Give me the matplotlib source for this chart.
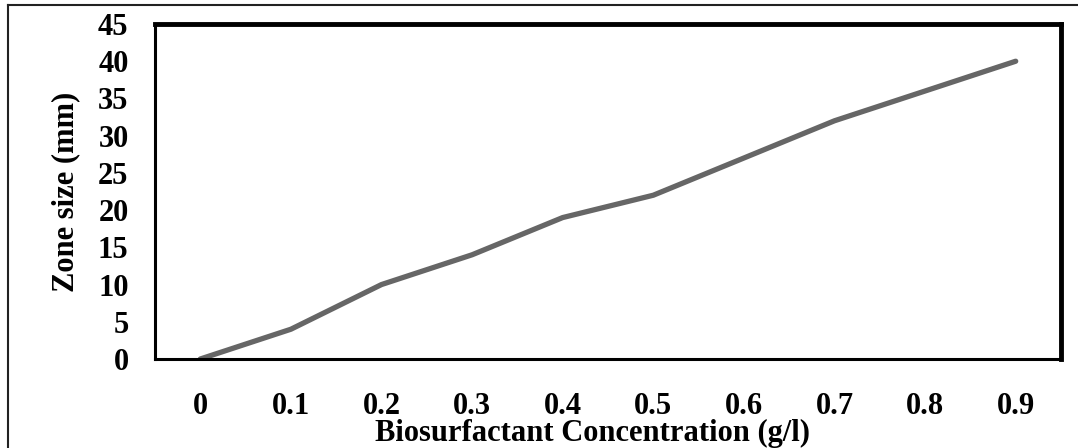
import matplotlib.pyplot as plt
from matplotlib.lines import Line2D

concentration = ['0', '0.1', '0.2', '0.3', '0.4', '0.5', '0.6', '0.7', '0.8', '0.9']
zone_size = [0, 4, 10, 14, 19, 22, 27, 32, 36, 40]

plt.rcParams['font.family'] = ['Liberation Serif', 'DejaVu Serif']
plt.rcParams['font.weight'] = 'bold'

W, H = 1078, 448
fig = plt.figure(figsize=(W / 100, H / 100), dpi=100)
ax = fig.add_axes([155 / W, 1 - 359 / H, (1061 - 155) / W, (359 - 24) / H])

x = list(range(len(concentration)))
ax.plot(x, zone_size, color='#666666', lw=3.8, solid_capstyle='round', solid_joinstyle='round')

ax.set_xlim(-0.5, len(concentration) - 0.5)
ax.set_ylim(0, 45)
ax.set_yticks(range(0, 50, 5))
ax.set_xticks(x)
ax.set_xticklabels(concentration)
ax.tick_params(axis='both', length=0, labelsize=22)
ax.tick_params(axis='y', pad=19)
ax.tick_params(axis='x', pad=24)

for side in ['top', 'right']:
    ax.spines[side].set_linewidth(3.5)
for side in ['left', 'bottom']:
    ax.spines[side].set_linewidth(2.2)
for s in ax.spines.values():
    s.set_color('black')

ax.set_xlabel('Biosurfactant Concentration (g/l)', fontsize=22, fontweight='bold')
ax.set_ylabel('Zone size (mm)', fontsize=22, fontweight='bold')
ax.xaxis.set_label_coords(0.483, -0.18)
ax.yaxis.set_label_coords(-0.083, 0.5)

# outer frame
fig.add_artist(Line2D([8 / W, 8 / W], [0, 1 - 5 / H], color='#222222', lw=1.5, transform=fig.transFigure))
fig.add_artist(Line2D([8 / W, 1], [1 - 5 / H, 1 - 5 / H], color='#222222', lw=1.5, transform=fig.transFigure))

fig.savefig('out.png', dpi=100)
